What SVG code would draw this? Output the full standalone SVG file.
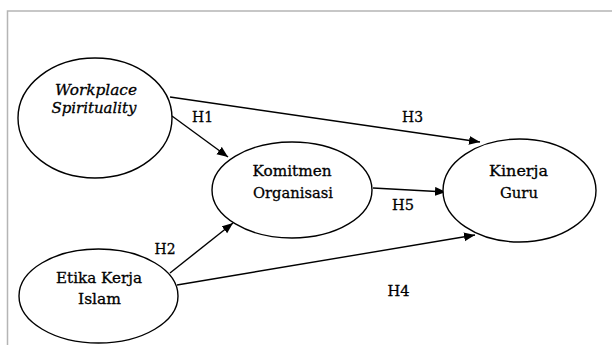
<svg xmlns="http://www.w3.org/2000/svg" width="612" height="345" viewBox="0 0 612 345">
  <defs>
    <marker id="arr" markerUnits="userSpaceOnUse" markerWidth="12" markerHeight="10" refX="11" refY="4.5" orient="auto">
      <path d="M0,0 L11,4.5 L0,9 Z" fill="#000"/>
    </marker>
    <style>
      .node { fill: #fff; stroke: #000; stroke-width: 1.4; }
      .edge { stroke: #000; stroke-width: 1.4; fill: none; marker-end: url(#arr); }
      text { stroke: #000; stroke-width: 0.3; }
    </style>
  </defs>
  <rect width="612" height="345" fill="#fff"/>
  <path d="M7.5,345 V11 H612" fill="none" stroke="#b5b5b5" stroke-width="1.5"/>

  <g font-family="DejaVu Serif, serif" font-size="15" fill="#000" text-anchor="middle">
  <g id="connectors">
    <line class="edge" x1="172" y1="116" x2="228" y2="157"/>
    <line class="edge" x1="170" y1="273" x2="233" y2="223"/>
    <line class="edge" x1="170" y1="97" x2="480" y2="142"/>
    <line class="edge" x1="177" y1="285" x2="475" y2="235"/>
    <line class="edge" x1="373" y1="188" x2="446" y2="192"/>
    <text x="202.5" y="121.5" textLength="21" lengthAdjust="spacingAndGlyphs">H1</text>
    <text x="165" y="254" textLength="21" lengthAdjust="spacingAndGlyphs">H2</text>
    <text x="412.5" y="121.5" textLength="21" lengthAdjust="spacingAndGlyphs">H3</text>
    <text x="398.5" y="296" textLength="22" lengthAdjust="spacingAndGlyphs">H4</text>
    <text x="403" y="210" textLength="22" lengthAdjust="spacingAndGlyphs">H5</text>
  </g>

  <g id="workplace-spirituality">
    <ellipse class="node" cx="95" cy="118" rx="77" ry="60"/>
    <text font-style="italic" x="96" y="95" textLength="82" lengthAdjust="spacingAndGlyphs">Workplace</text>
    <text font-style="italic" x="94" y="113" textLength="85" lengthAdjust="spacingAndGlyphs">Spirituality</text>
  </g>

  <g id="komitmen-organisasi">
    <ellipse class="node" cx="292" cy="190" rx="80" ry="48"/>
    <text x="292" y="176" textLength="79" lengthAdjust="spacingAndGlyphs">Komitmen</text>
    <text x="293" y="198" textLength="80" lengthAdjust="spacingAndGlyphs">Organisasi</text>
  </g>

  <g id="kinerja-guru">
    <ellipse class="node" cx="519.5" cy="190.5" rx="76.5" ry="51.5"/>
    <text x="518.5" y="176" textLength="59" lengthAdjust="spacingAndGlyphs">Kinerja</text>
    <text x="519" y="198" textLength="38" lengthAdjust="spacingAndGlyphs">Guru</text>
  </g>

  <g id="etika-kerja-islam">
    <ellipse class="node" cx="98.5" cy="296" rx="79.5" ry="47"/>
    <text x="99" y="283" textLength="86" lengthAdjust="spacingAndGlyphs">Etika Kerja</text>
    <text x="99.5" y="304" textLength="43" lengthAdjust="spacingAndGlyphs">Islam</text>
  </g>
  </g>
</svg>
